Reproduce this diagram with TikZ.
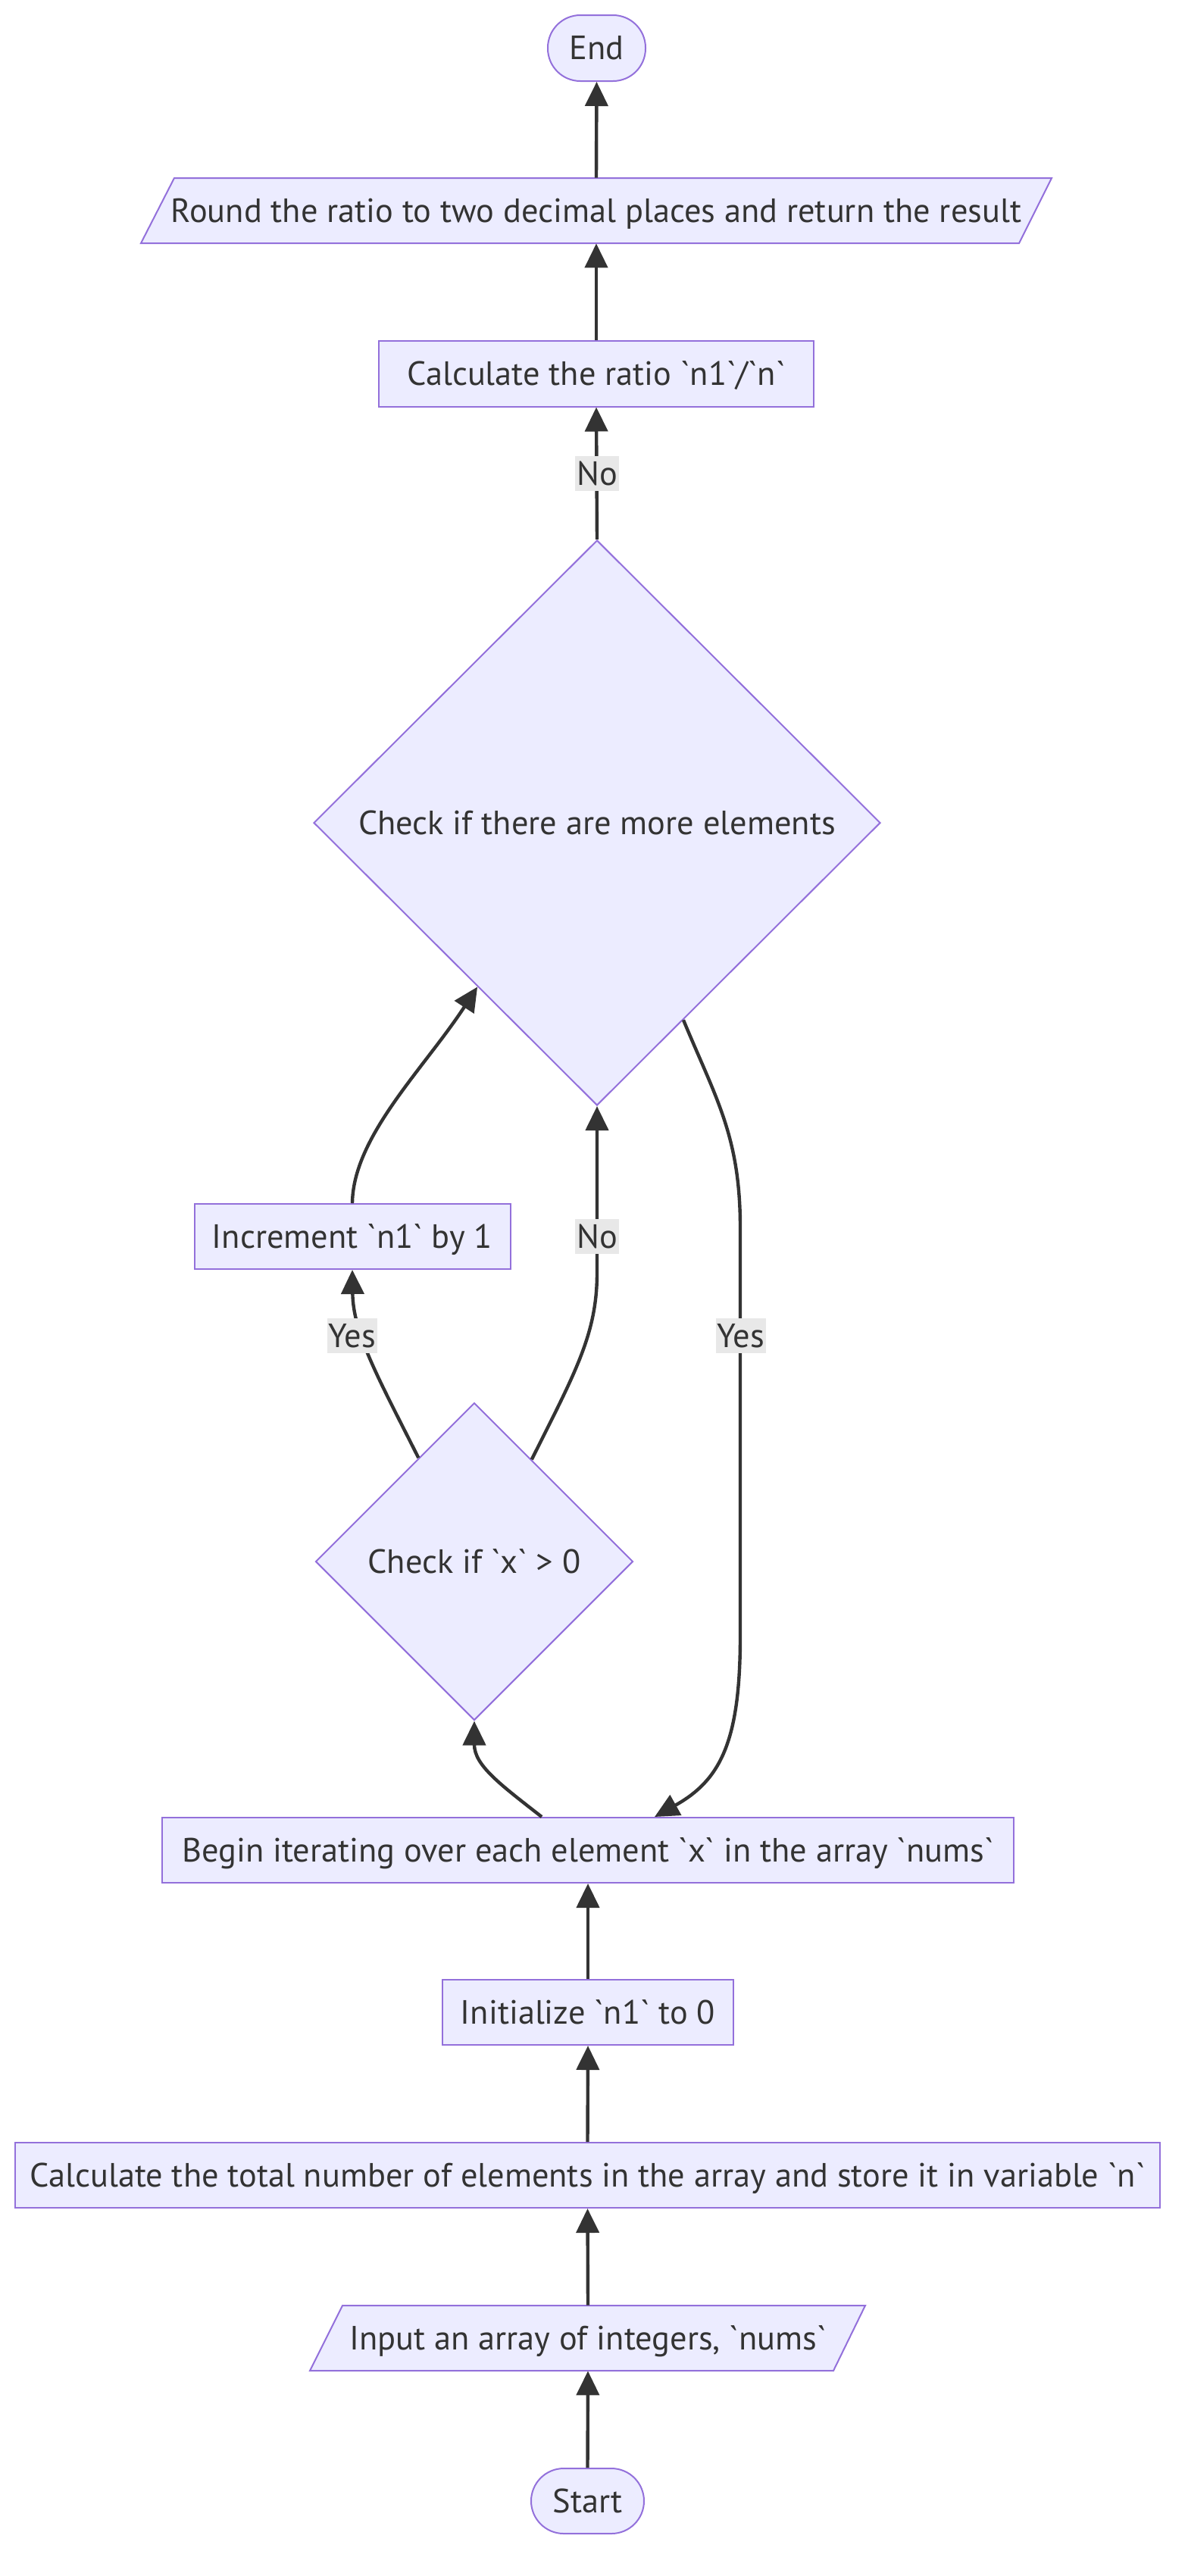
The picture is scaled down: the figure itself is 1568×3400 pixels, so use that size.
\documentclass[tikz,border=0pt]{standalone}
\usepackage{fontspec}
\newfontfamily\dfont{PT Sans}
\usetikzlibrary{shapes.geometric,arrows.meta,calc}
\definecolor{nodefill}{HTML}{ECECFF}
\definecolor{nodeline}{HTML}{9370DB}
\definecolor{txt}{HTML}{333333}
\definecolor{edgec}{HTML}{333333}
\definecolor{lblbg}{HTML}{E8E8E8}
\newcommand\dsize{\dfont\fontsize{22.2pt}{26pt}\selectfont}
\begin{document}
\begin{tikzpicture}[x=0.5pt,y=-0.5pt,
  txtbox/.style={text=txt, font=\dsize, text height=15pt, text depth=0pt},
  box/.style={rectangle, draw=nodeline, fill=nodefill, line width=1pt, inner sep=0pt, txtbox},
  plain/.style={rectangle, inner sep=0pt, txtbox},
  para/.style={draw=nodeline, fill=nodefill, line width=1pt},
  stadium/.style={box, rounded corners=21.5pt},
  decision/.style={diamond, aspect=1, draw=nodeline, fill=nodefill, line width=1pt, inner sep=0pt, txtbox},
  conn/.style={draw=edgec, line width=2.2pt, -{Triangle[length=16pt,width=15pt]}},
  lbl/.style={rectangle, fill=lblbg, txtbox, inner xsep=1pt, inner ysep=0pt, minimum height=23pt}]
\useasboundingbox (0,0) rectangle (1568,3400);

% parallelogram outlines
\filldraw[para] (186,321) -- (230,235) -- (1388,235) -- (1345,321) -- cycle;
\filldraw[para] (409,3129) -- (452,3043) -- (1142,3043) -- (1100,3129) -- cycle;

% nodes
\node[stadium, minimum width=64.5pt, minimum height=43.5pt] (endn) at (787.5,63.5) {End};
\node[plain, minimum width=560pt, minimum height=43pt] (round) at (787,278) {Round the ratio to two decimal places and return the result};
\node[box, minimum width=287pt, minimum height=43.5pt] (ratio) at (787,493) {Calculate the ratio `n1`/`n`};
\node[decision, minimum width=374pt, minimum height=373pt] (more) at (788,1086) {Check if there are more elements};
\node[box, minimum width=208.5pt, minimum height=43pt] (incr) at (465,1632) {Increment `n1` by 1};
\node[decision, minimum width=209.5pt, minimum height=209.5pt] (chkx) at (626,2061) {Check if `x` > 0};
\node[box, minimum width=562pt, minimum height=43pt] (iter) at (776,2442) {Begin iterating over each element `x` in the array `nums`};
\node[box, minimum width=192pt, minimum height=43pt] (init) at (776,2656) {Initialize `n1` to 0};
\node[box, minimum width=755.5pt, minimum height=43pt] (total) at (775.5,2871) {Calculate the total number of elements in the array and store it in variable `n`};
\node[plain, minimum width=330pt, minimum height=43pt] (input) at (776,3086) {Input an array of integers, `nums`};
\node[stadium, minimum width=74.5pt, minimum height=43pt] (start) at (775.5,3301) {Start};

% connectors
\draw[conn] (start.north) -- (input.south);
\draw[conn] (input.north) -- (total.south);
\draw[conn] (total.north) -- (init.south);
\draw[conn] (init.north) -- (iter.south);
\draw[conn] ($(iter.north)+(-61,0)$) .. controls (660,2355) and (626,2330) .. (chkx.south);
\draw[conn] ($(chkx.north)!0.35!(chkx.west)$) .. controls (500,1820) and (466,1760) .. (incr.south);
\draw[conn] ($(chkx.north)!0.36!(chkx.east)$) .. controls (760,1810) and (788,1760) .. (788,1680) -- (more.south);
\draw[conn] (incr.north) .. controls (466,1500) and (560,1410) .. ($(more.south)!0.421!(more.west)$);
\draw[conn] ($(more.south)!0.304!(more.east)$) .. controls (945,1450) and (977,1500) .. (977,1620) -- (977,2160) .. controls (977,2300) and (950,2350) .. ($(iter.north)+(88,0)$);
\draw[conn] (more.north) -- (ratio.south);
\draw[conn] (ratio.north) -- (round.south);
\draw[conn] (round.north) -- (endn.south);

% edge labels
\node[lbl] (lno1) at (788,625) {No};
\node[lbl] (lno2) at (788,1632) {No};
\node[lbl] (lyes1) at (465,1763) {Yes};
\node[lbl] (lyes2) at (978,1763) {Yes};
\end{tikzpicture}
\end{document}
